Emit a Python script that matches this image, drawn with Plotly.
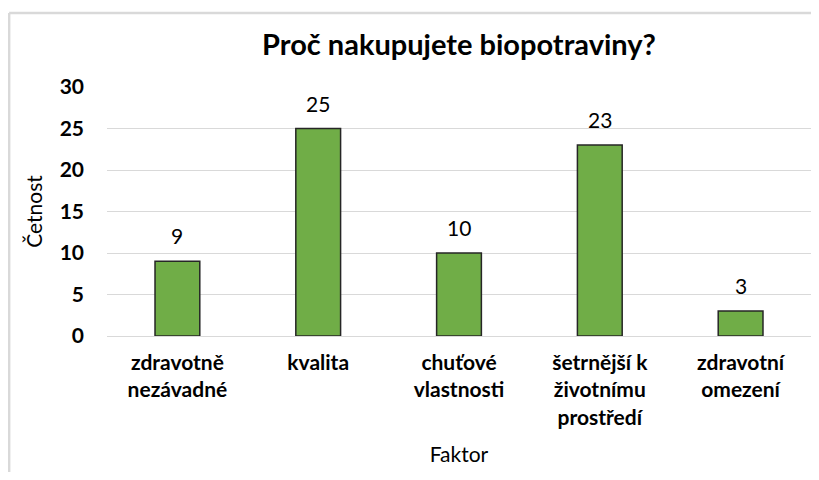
import plotly.graph_objects as go

categories = ["zdravotně<br>nezávadné", "kvalita", "chuťové<br>vlastnosti",
              "šetrnější k<br>životnímu<br>prostředí", "zdravotní<br>omezení"]
values = [9, 25, 10, 23, 3]
y_ticks = [0, 5, 10, 15, 20, 25, 30]
title_text = "Proč nakupujete biopotraviny?"
x_title = "Faktor"
y_title = "Četnost"

FONT = "Lato"
GRID = "#D9D9D9"

fig = go.Figure()
fig.add_trace(go.Bar(
    x=categories, y=values,
    marker=dict(color="#70AD47", line=dict(color="#262626", width=1.5)),
    hoverinfo="x+y",
))

for c, v in zip(categories, values):
    fig.add_annotation(x=c, y=v, text=str(v), showarrow=False,
                       yanchor="bottom", yshift=11,
                       font=dict(family=FONT, size=21, color="#000000"))

# outer chart frame: only the top and left edges fall inside the picture
fig.add_shape(type="line", xref="paper", yref="paper",
              x0=-0.139, x1=1.0, y0=1.297, y1=1.297,
              line=dict(color=GRID, width=2.5), layer="below")
fig.add_shape(type="line", xref="paper", yref="paper",
              x0=-0.139, x1=-0.139, y0=-0.6, y1=1.297,
              line=dict(color=GRID, width=2.5), layer="below")

fig.update_layout(
    width=803, height=464,
    margin=dict(l=99, r=0, t=79, b=136),
    paper_bgcolor="white", plot_bgcolor="white",
    bargap=0.682,
    showlegend=False,
    font=dict(family=FONT, color="#000000"),
    title=dict(text="<b>" + title_text + "</b>", x=0.5, xref="paper",
               xanchor="center", y=0.920, yanchor="middle",
               font=dict(family=FONT, size=29, color="#000000")),
    xaxis=dict(
        showgrid=False, showline=False, ticks="", automargin=False,
        tickfont=dict(family=FONT, size=21, color="#000000", weight="bold"),
        ticklabelstandoff=12,
        title=dict(text=x_title, standoff=19,
                   font=dict(family=FONT, size=21, color="#000000")),
    ),
    yaxis=dict(
        range=[0, 30], tickvals=y_ticks, showgrid=True, gridcolor=GRID,
        gridwidth=1.2, zeroline=True, zerolinecolor=GRID, zerolinewidth=1.2,
        showline=False, ticks="", automargin=False,
        tickfont=dict(family=FONT, size=21, color="#000000", weight="bold"),
        ticklabelstandoff=22,
        title=dict(text=y_title, standoff=11,
                   font=dict(family=FONT, size=21, color="#000000")),
    ),
)

fig.write_html("out.html")
